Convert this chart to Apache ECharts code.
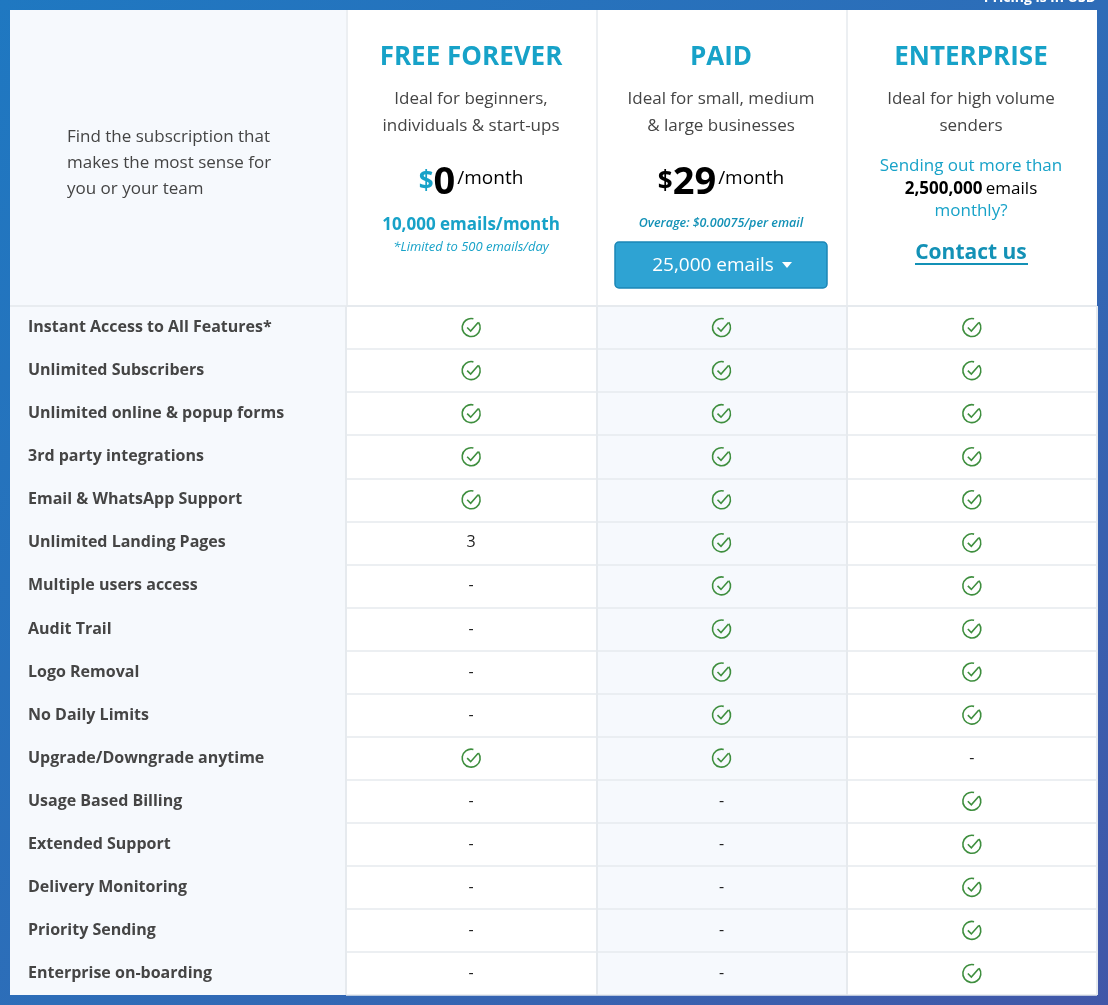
<!DOCTYPE html>
<html><head><meta charset="utf-8">
<script src="https://cdn.jsdelivr.net/npm/echarts@6/dist/echarts.min.js"></script>
<style>html,body{margin:0;padding:0;}#c{width:1108px;height:1005px;background:linear-gradient(135deg,#1f78c1 0%,#2d6db8 50%,#4157a8 100%);}</style>
</head><body><div id="c"></div>
<script>
const plans = ['FREE FOREVER','PAID','ENTERPRISE'];
const features = ['Instant Access to All Features*','Unlimited Subscribers','Unlimited online & popup forms','3rd party integrations','Email & WhatsApp Support','Unlimited Landing Pages','Multiple users access','Audit Trail','Logo Removal','No Daily Limits','Upgrade/Downgrade anytime','Usage Based Billing','Extended Support','Delivery Monitoring','Priority Sending','Enterprise on-boarding'];
const freeValues = ['✓','✓','✓','✓','✓','3','-','-','-','-','✓','-','-','-','-','-'];
const paidValues = ['✓','✓','✓','✓','✓','✓','✓','✓','✓','✓','✓','-','-','-','-','-'];
const enterpriseValues = ['✓','✓','✓','✓','✓','✓','✓','✓','✓','✓','-','✓','✓','✓','✓','✓'];

const data = [];
[freeValues, paidValues, enterpriseValues].forEach((arr, p) => arr.forEach((v, i) => data.push([p, i, v])));

const chart = echarts.init(document.getElementById('c'));
const F = 'Open Sans';
const teal = '#17a2c8';
function renderItem(params, api) {
  const pt = api.coord([api.value(0), api.value(1)]);
  const v = data[params.dataIndex][2];
  if (v === '✓') {
    return { type: 'group', x: pt[0], y: pt[1], children: [
      { type: 'arc', shape: { cx: 0, cy: 0, r: 9, startAngle: -Math.PI * 0.2, endAngle: -Math.PI * 0.42, clockwise: true }, style: { stroke: '#3e8e3e', lineWidth: 1.6, fill: null } },
      { type: 'polyline', shape: { points: [[-4, 0], [-0.5, 3.5], [7, -5]] }, style: { stroke: '#3e8e3e', lineWidth: 1.6, fill: null } }
    ]};
  }
  return { type: 'text', x: pt[0], y: pt[1], style: { text: v, fill: '#222', font: '16px ' + F, align: 'center', verticalAlign: 'middle' } };
}
const colX = [471, 721, 971];
function t(x, y, text, font, fill, extra) {
  return Object.assign({ type: 'text', x: x, y: y, style: Object.assign({ text: text, font: font, fill: fill, align: 'center', verticalAlign: 'middle' }, extra || {}) });
}
chart.setOption({
  animation: false,
  grid: { left: 346, right: 11, top: 306, bottom: 10 },
  xAxis: { type: 'category', data: plans, axisLine: { show: false }, axisTick: { show: false }, axisLabel: { show: false },
    splitLine: { show: true, interval: 0, lineStyle: { color: '#e6eaee', width: 2 } } },
  yAxis: { type: 'category', data: features, inverse: true, axisLine: { show: false }, axisTick: { show: false },
    axisLabel: { align: 'left', margin: 318, fontFamily: F, fontWeight: 'bold', fontSize: 16, color: '#454545' },
    splitLine: { show: true, interval: 0, lineStyle: { color: '#e6eaee', width: 1.5 } } },
  graphic: [
    { type: 'rect', z: -10, shape: { x: 10, y: 10, width: 1087, height: 985 }, style: { fill: '#fff' } },
    { type: 'rect', z: -9, shape: { x: 10, y: 10, width: 336, height: 985 }, style: { fill: '#f6f9fd' } },
    { type: 'rect', z: -9, shape: { x: 597, y: 306, width: 249, height: 689 }, style: { fill: '#f6f9fd' } },
    { type: 'rect', z: -8, shape: { x: 346, y: 10, width: 2, height: 296 }, style: { fill: '#eceff2' } },
    { type: 'rect', z: -8, shape: { x: 596, y: 10, width: 2, height: 296 }, style: { fill: '#eceff2' } },
    { type: 'rect', z: -8, shape: { x: 846, y: 10, width: 2, height: 296 }, style: { fill: '#eceff2' } },
    { type: 'rect', z: -8, shape: { x: 10, y: 305, width: 1087, height: 2 }, style: { fill: '#e8ecf0' } },
    t(1040, -2, 'Pricing is in USD', 'bold 14px ' + F, '#fff'),
    t(67, 137, 'Find the subscription that', '17px ' + F, '#444', { align: 'left' }),
    t(67, 163, 'makes the most sense for', '17px ' + F, '#444', { align: 'left' }),
    t(67, 189, 'you or your team', '17px ' + F, '#444', { align: 'left' }),
    t(colX[0], 58, plans[0], 'bold 26px ' + F, teal),
    t(colX[1], 58, plans[1], 'bold 26px ' + F, teal),
    t(colX[2], 58, plans[2], 'bold 26px ' + F, teal),
    t(colX[0], 99, 'Ideal for beginners,', '17px ' + F, '#444'),
    t(colX[0], 126, 'individuals & start-ups', '17px ' + F, '#444'),
    t(colX[1], 99, 'Ideal for small, medium', '17px ' + F, '#444'),
    t(colX[1], 126, '& large businesses', '17px ' + F, '#444'),
    t(colX[2], 99, 'Ideal for high volume', '17px ' + F, '#444'),
    t(colX[2], 126, 'senders', '17px ' + F, '#444'),
    { type: 'text', x: colX[0], y: 183, style: { text: '{d|$}{n|0}{m|/month}', align: 'center', verticalAlign: 'middle',
      rich: { d: { font: 'bold 26px ' + F, fill: teal, color: teal }, n: { font: 'bold 38px ' + F, color: teal }, m: { font: '19px ' + F, color: teal, padding: [0, 0, 8, 2] } } } },
    { type: 'text', x: colX[1], y: 183, style: { text: '{d|$}{n|29}{m|/month}', align: 'center', verticalAlign: 'middle',
      rich: { d: { font: 'bold 26px ' + F, color: teal }, n: { font: 'bold 38px ' + F, color: teal }, m: { font: '19px ' + F, color: teal, padding: [0, 0, 8, 2] } } } },
    t(colX[0], 225, '10,000 emails/month', 'bold 17px ' + F, teal),
    t(colX[0], 247, '*Limited to 500 emails/day', 'italic 13px ' + F, teal),
    t(colX[1], 223, 'Overage: $0.00075/per email', 'italic 600 12.5px ' + F, '#1391b6'),
    { type: 'rect', shape: { x: 615, y: 242, width: 212, height: 46, r: 4 }, style: { fill: '#2ea3d3', stroke: '#1b86b6', lineWidth: 1.5 } },
    t(713, 266, '25,000 emails', '19px ' + F, '#fff'),
    { type: 'polygon', shape: { points: [[782, 262], [792, 262], [787, 268]] }, style: { fill: '#fff' } },
    t(colX[2], 166, 'Sending out more than', '17px ' + F, teal),
    { type: 'text', x: colX[2], y: 189, style: { text: '{b|2,500,000} {r|emails}', align: 'center', verticalAlign: 'middle',
      rich: { b: { font: 'bold 17px ' + F, color: '#1391b6' }, r: { font: '17px ' + F, color: teal } } } },
    t(colX[2], 211, 'monthly?', '17px ' + F, teal),
    t(colX[2], 253, 'Contact us', 'bold 21px ' + F, '#1391b6'),
    { type: 'rect', shape: { x: 915, y: 263, width: 113, height: 2 }, style: { fill: '#1391b6' } }
  ],
  series: [{ type: 'custom', renderItem: renderItem, data: data.map(d => [d[0], d[1]]) }]
});
</script></body></html>
